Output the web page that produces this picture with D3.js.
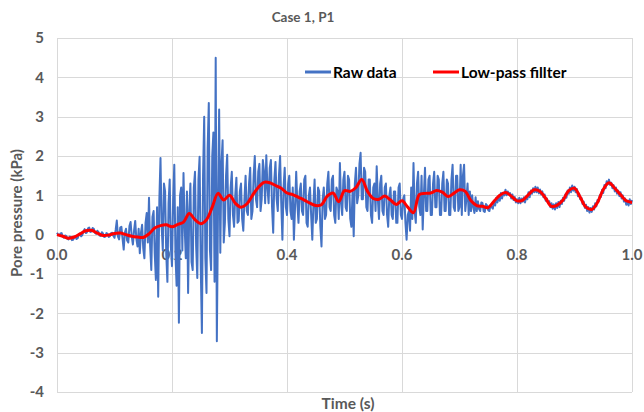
<!DOCTYPE html>
<html>
<head>
<meta charset="utf-8">
<script src="https://cdn.jsdelivr.net/npm/d3@7"></script>
<style>
  html, body { margin: 0; padding: 0; background: #fff; }
  svg { display: block; font-family: Lato, "Open Sans", sans-serif; }
</style>
</head>
<body>
<div id="chart"></div>
<script>
// raw samples every 0.002 s, one row per 0.1 s
const rawStep = 0.002;
const rawValues = [
  0.05, 0.0, -0.02, 0.03, 0.04, -0.05, -0.08, -0.02, -0.03, -0.1, -0.12, -0.05, -0.06, -0.14, -0.13, -0.07, -0.04, -0.11, -0.09, 0.0, 0.03, -0.04, -0.01, 0.08, 0.14,
  0.04, 0.06, 0.16, 0.18, 0.07, 0.08, 0.17, 0.15, 0.05, 0.02, 0.1, 0.07, -0.02, -0.03, 0.06, 0.03, -0.06, -0.05, 0.04, 0.02, -0.06, -0.04, 0.04, 0.05, -0.03,
  -0.08, 0.12, 0.36, -0.05, -0.12, 0.18, 0.2, -0.1, -0.38, 0.05, 0.15, -0.15, -0.2, 0.22, 0.32, -0.05, -0.25, 0.1, 0.35, -0.1, -0.3, 0.15, -0.47, 0.05, 0.25,
  -0.35, -0.6, 0.3, 0.55, -0.2, 0.94, -0.3, -0.9, 0.45, 0.6, -0.5, -1.15, 0.7, -1.58, 0.9, 1.95, 0.2, -0.4, 1.3, 1.1, -0.5, -1.2, 0.8, 1.4, -0.3,
  -0.8, 0.9, 1.78, -0.5, -1.3, 0.7, -2.24, 1.0, 1.2, -0.4, 1.57, 0.2, -0.6, 1.1, -1.48, 0.6, 1.3, -0.7, -0.9, 1.2, 1.6, -0.3, -1.1, 1.4, 1.98,
  -0.8, -2.5, 1.5, 3.0, -0.6, -1.48, 2.2, 3.35, -0.4, -0.9, 2.0, 2.6, -1.2, 4.5, -2.71, 0.6, 3.18, -0.46, 1.8, 2.4, -0.2, 0.3, 1.5, 2.03, 0.4,
  -0.04, 1.2, 1.6, 0.5, 0.2, 1.0, 1.45, 0.3, 0.35, 1.1, 1.3, 0.4, 0.1, 0.9, 1.5, 0.6, 0.5, 1.3, 1.7, 0.4, 0.6, 1.5, 2.0, 0.9, 0.7,
  1.6, 1.8, 0.6, 0.9, 1.9, 1.6, 0.8, 2.02, 1.2, 0.8, 1.7, 1.9, 0.7, 0.05, 1.4, 1.85, 0.9, 0.6, 1.5, 2.0, 0.8, -0.13, 1.2, 1.7, 0.7,
  0.5, 1.3, 1.5, 0.6, 0.4, 1.2, -0.13, 0.7, 1.6, 0.8, 0.3, 1.1, 1.3, 0.6, 0.5, 1.4, 1.5, 0.3, 0.2, 1.0, 1.2, 0.5, -0.13, 0.8, 1.4,
  0.3, 0.4, 1.2, 1.1, 0.2, -0.3, 0.9, 1.2, 0.4, 0.5, 1.3, 1.6, 0.7, 0.6, 1.4, 1.5, 0.5, 0.3, 1.2, 1.1, 0.4, 1.82, 0.8, 0.5, 1.4,
  1.6, 0.7, 0.6, 1.5, 1.4, 0.4, 0.2, 1.1, -0.04, 1.3, 1.7, 0.8, 1.0, 1.8, 2.08, 0.9, 0.9, 1.7, 1.6, 0.7, 0.6, 1.4, 1.4, 0.5, 0.3,
  1.2, 1.3, 0.6, 1.74, 0.9, 0.4, 1.3, 1.5, 0.6, 0.5, 1.2, 1.3, 0.5, 0.2, 1.0, 1.2, 0.5, 0.4, 1.1, 1.1, 0.3, 0.3, 1.2, 1.3, 0.5,
  0.4, 0.9, 1.0, 0.3, -0.13, 0.5, 0.6, 0.1, 1.2, 0.4, 1.82, 0.6, 0.3, 1.3, 1.6, 0.7, 0.5, 1.5, 0.13, 1.0, 1.7, 0.6, 0.6, 1.4, 1.5,
  0.5, 0.5, 1.3, 1.6, 0.7, 0.7, 1.5, 1.4, 0.5, 0.5, 1.3, 1.6, 0.6, 0.6, 1.4, 1.3, 0.5, 0.5, 1.4, 1.78, 0.7, 0.6, 1.5, 1.5, 0.6,
  0.7, 1.78, 0.5, 1.5, 1.78, 0.6, 0.9, 1.3, 0.5, 1.1, 0.6, 1.0, 0.7, 0.55, 0.95, 0.6, 0.85, 0.65, 0.6, 0.82, 0.8, 0.6, 0.58, 0.78, 0.74,
  0.62, 0.6, 0.75, 0.7, 0.66, 0.86, 0.74, 0.94, 0.82, 0.98, 0.86, 1.06, 0.92, 1.06, 1.0, 1.14, 1.0, 1.1, 1.04, 1.06, 0.92, 1.02, 0.88, 0.96, 0.82,
  0.9, 0.8, 0.94, 0.8, 0.92, 0.84, 0.95, 0.82, 0.97, 0.9, 1.08, 0.95, 1.12, 1.04, 1.18, 1.08, 1.22, 1.08, 1.2, 1.05, 1.15, 1.02, 1.1, 0.95, 1.02,
  0.86, 0.92, 0.8, 0.85, 0.7, 0.8, 0.66, 0.77, 0.64, 0.8, 0.68, 0.83, 0.7, 0.86, 0.78, 0.94, 0.86, 1.02, 0.94, 1.12, 1.04, 1.2, 1.08, 1.25, 1.12,
  1.22, 1.08, 1.16, 0.98, 1.04, 0.9, 0.94, 0.78, 0.84, 0.68, 0.76, 0.6, 0.7, 0.56, 0.68, 0.58, 0.72, 0.64, 0.8, 0.72, 0.88, 0.84, 1.0, 0.96, 1.14,
  1.06, 1.26, 1.18, 1.36, 1.28, 1.4, 1.26, 1.32, 1.18, 1.26, 1.1, 1.2, 1.04, 1.12, 0.98, 1.08, 0.92, 1.0, 0.84, 0.92, 0.76, 0.86, 0.74, 0.9, 0.78,
  0.88
];

// low-pass filtered signal every 0.01 s
const filterStep = 0.01;
const filterValues = [
  0.00, -0.04, -0.09, -0.06, 0.02, 0.10, 0.11, 0.04, -0.02, -0.01,
  0.03, 0.04, 0.00, -0.04, -0.06, -0.07, 0.02, 0.17, 0.23, 0.25,
  0.20, 0.26, 0.32, 0.54, 0.38, 0.28, 0.38, 0.70, 1.05, 0.88,
  1.00, 0.80, 0.70, 0.78, 1.00, 1.20, 1.33, 1.32, 1.25, 1.18,
  1.06, 1.02, 0.95, 0.88, 0.80, 0.74, 0.76, 0.98, 1.06, 0.84,
  1.12, 1.10, 1.20, 1.40, 1.10, 0.92, 0.90, 0.98, 0.88, 0.77,
  0.86, 0.70, 0.56, 1.02, 1.05, 1.06, 1.12, 1.08, 0.97, 1.05,
  1.14, 1.10, 0.86, 0.74, 0.72, 0.69, 0.85, 1.00, 1.07, 0.98,
  0.86, 0.88, 1.02, 1.14, 1.10, 0.92, 0.72, 0.75, 0.88, 1.12,
  1.18, 0.95, 0.70, 0.64, 0.82, 1.15, 1.32, 1.18, 1.02, 0.86,
  0.82
];

const xTicks = [0, 0.2, 0.4, 0.6, 0.8, 1.0];
const yTicks = [-4, -3, -2, -1, 0, 1, 2, 3, 4, 5];
const seriesNames = ['Raw data', 'Low-pass fillter'];
const seriesColors = ['#4472c4', '#ff0000'];

document.addEventListener('DOMContentLoaded', () => {
    const width = 644, height = 412;
    const margin = { top: 38, right: 12, bottom: 20, left: 57 };

    const svg = d3.select('#chart').append('svg')
        .attr('width', width)
        .attr('height', height);

    const x = d3.scaleLinear().domain([0, 1]).range([margin.left, width - margin.right]);
    const y = d3.scaleLinear().domain([-4, 5]).range([height - margin.bottom, margin.top]);

    // gridlines
    svg.append('g')
        .selectAll('line')
        .data(yTicks)
        .enter().append('line')
        .attr('x1', x(0)).attr('x2', x(1))
        .attr('y1', d => Math.round(y(d)) + 0.5)
        .attr('y2', d => Math.round(y(d)) + 0.5)
        .attr('stroke', '#d9d9d9').attr('stroke-width', 1);

    svg.append('g')
        .selectAll('line')
        .data(xTicks)
        .enter().append('line')
        .attr('x1', d => Math.round(x(d)) + 0.5)
        .attr('x2', d => Math.round(x(d)) + 0.5)
        .attr('y1', y(5)).attr('y2', y(-4))
        .attr('stroke', '#d9d9d9').attr('stroke-width', 1);

    // y tick labels
    svg.append('g')
        .selectAll('text')
        .data(yTicks)
        .enter().append('text')
        .attr('x', 44)
        .attr('y', d => y(d))
        .attr('dy', '0.36em')
        .attr('text-anchor', 'end')
        .attr('font-size', 15)
        .attr('font-weight', 'bold')
        .attr('fill', '#595959')
        .text(d => d);

    // x tick labels sit under the zero line
    svg.append('g')
        .selectAll('text')
        .data(xTicks)
        .enter().append('text')
        .attr('x', d => x(d))
        .attr('y', y(0) + 25)
        .attr('text-anchor', 'middle')
        .attr('font-size', 15)
        .attr('font-weight', 'bold')
        .attr('fill', '#595959')
        .text(d => d3.format('.1f')(d));

    const raw = rawValues.map((v, i) => ({ t: i * rawStep, v }));
    const filt = filterValues.map((v, i) => ({ t: i * filterStep, v }));

    const rawLine = d3.line().x(d => x(d.t)).y(d => y(d.v));
    const filtLine = d3.line().x(d => x(d.t)).y(d => y(d.v)).curve(d3.curveCatmullRom);

    svg.append('path')
        .datum(raw)
        .attr('d', rawLine)
        .attr('fill', 'none')
        .attr('stroke', seriesColors[0])
        .attr('stroke-width', 2)
        .attr('stroke-linejoin', 'round');

    svg.append('path')
        .datum(filt)
        .attr('d', filtLine)
        .attr('fill', 'none')
        .attr('stroke', seriesColors[1])
        .attr('stroke-width', 3)
        .attr('stroke-linejoin', 'round');

    // title and axis titles
    svg.append('text')
        .attr('x', 303).attr('y', 22)
        .attr('text-anchor', 'middle')
        .attr('font-size', 13.5)
        .attr('font-weight', 'bold')
        .attr('fill', '#595959')
        .text('Case 1, P1');

    svg.append('text')
        .attr('x', 348).attr('y', 409)
        .attr('text-anchor', 'middle')
        .attr('font-size', 15.5)
        .attr('font-weight', 'bold')
        .attr('fill', '#595959')
        .text('Time (s)');

    svg.append('text')
        .attr('transform', 'translate(22,213) rotate(-90)')
        .attr('text-anchor', 'middle')
        .attr('font-size', 15)
        .attr('font-weight', 'bold')
        .attr('fill', '#595959')
        .text('Pore pressure (kPa)');

    // legend
    const legendX = [305, 433];
    const legend = svg.append('g')
        .selectAll('g')
        .data(seriesNames)
        .enter().append('g')
        .attr('transform', (d, i) => `translate(${legendX[i]},72)`);

    legend.append('line')
        .attr('x1', 0).attr('x2', 26)
        .attr('stroke', (d, i) => seriesColors[i])
        .attr('stroke-width', 3);

    legend.append('text')
        .attr('x', 28)
        .attr('dy', '0.36em')
        .attr('font-size', 15.5)
        .attr('font-weight', 'bold')
        .attr('fill', '#000')
        .text(d => d);
});
</script>
</body>
</html>
